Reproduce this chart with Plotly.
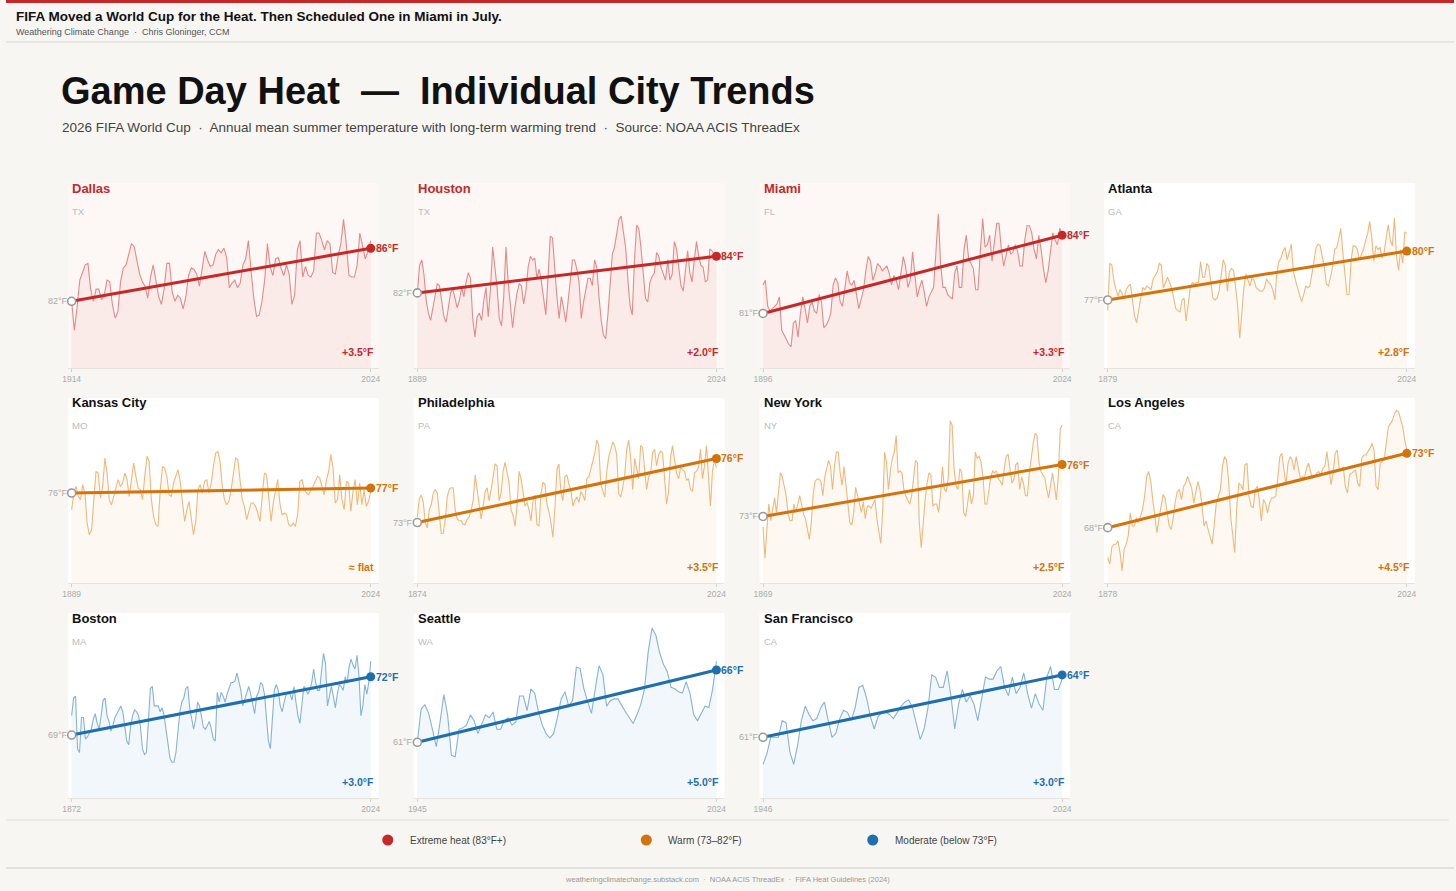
import plotly.graph_objects as go

# Staedte, Bundesstaaten, Hitzestufe und erstes Jahr der Messreihe.
cities = ["Dallas", "Houston", "Miami", "Atlanta", "Kansas City", "Philadelphia",
          "New York", "Los Angeles", "Boston", "Seattle", "San Francisco"]
states = ["TX", "TX", "FL", "GA", "MO", "PA", "NY", "CA", "MA", "WA", "CA"]
tiers = ["extreme", "extreme", "extreme", "warm", "warm", "warm", "warm", "warm",
         "moderate", "moderate", "moderate"]
start_years = [1914, 1889, 1896, 1879, 1889, 1874, 1869, 1878, 1872, 1945, 1946]
end_year = 2024

# Mittlere Sommertemperatur (°F), ein Wert pro Jahr.
dallas = [82.2, 80.3, 81.8, 83.6, 84.1, 84.6, 84.7, 83.0, 82.2, 83.0,
          83.0, 82.3, 82.6, 83.6, 83.5, 82.0, 81.1, 81.5, 83.5, 84.4,
          84.6, 85.3, 86.0, 85.8, 84.8, 84.0, 83.5, 83.2, 82.4, 83.8,
          84.6, 83.6, 82.5, 82.0, 83.0, 84.7, 84.7, 82.8, 82.2, 82.6,
          82.4, 81.7, 82.5, 83.9, 84.4, 84.3, 84.0, 83.2, 84.5, 85.5,
          84.9, 84.5, 84.6, 85.3, 85.6, 85.4, 85.7, 85.1, 83.1, 83.4,
          83.6, 83.1, 83.4, 84.6, 85.0, 86.2, 84.2, 82.4, 81.2, 81.3,
          82.2, 83.6, 86.0, 84.5, 83.9, 85.0, 85.1, 84.4, 83.9, 84.6,
          84.0, 82.0, 82.6, 85.6, 86.2, 83.8, 84.5, 83.9, 83.8, 84.2,
          86.7, 86.7, 86.2, 85.6, 86.2, 86.0, 84.1, 84.0, 85.2, 86.0,
          87.6, 86.0, 83.9, 83.8, 83.8, 84.6, 86.7, 85.8, 85.0, 85.5, 86.2]
houston = [82.2, 83.7, 84.0, 83.2, 81.8, 81.1, 80.7, 81.3, 82.0, 82.7,
           82.6, 81.7, 80.9, 80.6, 81.3, 82.2, 82.4, 81.9, 81.4, 81.8,
           82.5, 82.0, 82.8, 83.3, 83.0, 80.8, 79.8, 80.9, 81.1, 80.7,
           81.8, 82.5, 80.9, 82.4, 84.7, 83.6, 82.5, 80.8, 80.4, 82.0,
           84.7, 82.8, 81.5, 80.3, 81.4, 82.2, 82.7, 82.6, 81.6, 82.3,
           83.6, 84.2, 84.0, 84.1, 83.0, 83.5, 82.8, 81.9, 81.0, 83.1,
           85.3, 85.2, 83.5, 82.0, 80.8, 82.0, 81.4, 80.6, 81.7, 83.0,
           84.0, 84.0, 83.5, 82.8, 80.8, 81.7, 82.4, 83.0, 83.0, 82.6,
           84.0, 83.6, 82.0, 80.7, 79.9, 79.7, 81.0, 82.8, 84.3, 84.7,
           85.4, 86.2, 86.4, 85.6, 84.7, 83.0, 81.5, 81.0, 84.0, 85.9,
           85.7, 84.6, 83.4, 81.9, 81.7, 82.8, 83.1, 83.3, 84.4, 84.2,
           83.6, 83.2, 82.9, 84.0, 82.9, 83.2, 85.0, 84.6, 83.5, 82.6,
           82.3, 83.5, 84.5, 83.3, 82.8, 84.0, 85.0, 84.2, 83.7, 83.6,
           82.8, 82.9, 84.6, 84.5, 84.3, 84.2]
miami = [82.1, 82.3, 81.2, 81.0, 81.1, 81.2, 81.3, 81.6, 80.2, 80.0,
         79.8, 79.6, 79.5, 80.5, 80.6, 79.9, 80.9, 81.6, 81.1, 80.5,
         81.2, 81.4, 81.0, 80.9, 81.7, 81.4, 80.3, 80.4, 80.6, 80.9,
         82.1, 82.4, 82.2, 81.4, 81.2, 82.0, 82.7, 82.2, 82.1, 82.3,
         81.6, 81.1, 81.5, 81.9, 82.7, 83.3, 83.1, 82.3, 82.6, 83.0,
         82.9, 82.7, 82.8, 82.9, 82.6, 82.1, 82.5, 82.3, 81.9, 82.6,
         83.3, 82.9, 82.0, 82.3, 83.5, 82.5, 81.6, 82.0, 82.3, 81.8,
         81.2, 81.6, 81.8, 82.0, 83.5, 85.1, 83.0, 82.0, 82.0, 81.7,
         81.6, 81.5, 82.6, 82.9, 82.0, 82.0, 83.6, 84.2, 83.2, 83.0,
         82.8, 81.9, 81.9, 83.5, 84.9, 83.7, 83.8, 84.2, 83.1, 83.9,
         84.7, 84.7, 83.6, 82.9, 83.4, 83.8, 83.4, 83.5, 83.8, 83.5,
         82.9, 82.9, 84.0, 84.6, 84.6, 84.3, 83.6, 83.2, 84.2, 83.6,
         82.8, 82.2, 82.7, 83.5, 84.3, 84.0, 83.8, 84.5, 84.2]
atlanta = [76.7, 79.4, 79.3, 78.4, 77.9, 77.5, 77.9, 77.6, 77.4, 77.9,
           78.1, 78.2, 77.3, 76.4, 76.0, 76.8, 77.4, 78.0, 77.9, 78.1,
           78.0, 77.9, 78.5, 78.7, 78.9, 79.4, 79.3, 78.0, 78.3, 78.6,
           78.3, 78.0, 77.4, 76.8, 76.7, 76.6, 77.3, 77.4, 76.1, 77.2,
           78.0, 78.3, 78.2, 78.3, 78.3, 79.5, 78.6, 78.6, 79.4, 79.2,
           78.4, 77.4, 77.3, 77.4, 77.8, 78.9, 79.6, 79.3, 77.8, 78.9,
           79.1, 79.0, 78.1, 77.0, 75.1, 76.5, 78.0, 78.8, 78.5, 78.1,
           78.6, 78.4, 78.0, 77.9, 77.8, 77.8, 78.0, 78.5, 78.3, 78.2,
           77.9, 77.3, 78.9, 79.5, 79.7, 80.1, 80.3, 79.6, 80.0, 80.5,
           78.9, 78.4, 78.0, 77.6, 77.2, 77.6, 78.1, 78.0, 78.1, 78.8,
           79.5, 80.3, 80.5, 80.4, 79.8, 79.2, 78.2, 78.1, 78.6, 79.2,
           80.2, 80.3, 80.8, 81.4, 80.0, 78.9, 77.6, 77.6, 79.6, 80.4,
           80.4, 80.2, 79.6, 79.9, 80.2, 80.7, 81.1, 81.8, 80.9, 79.5,
           80.4, 80.2, 80.3, 79.7, 80.0, 80.9, 81.6, 80.7, 80.4, 82.0,
           79.8, 79.0, 80.2, 79.4, 81.2, 81.1]
kansas_city = [75.4, 76.4, 76.8, 76.2, 76.0, 76.9, 76.4, 74.6, 73.9, 74.2,
               76.0, 77.7, 77.6, 76.1, 76.8, 78.5, 77.6, 76.0, 75.7, 76.2,
               76.7, 77.2, 76.8, 77.0, 77.6, 77.2, 76.2, 77.2, 78.2, 77.4,
               76.7, 76.6, 76.0, 77.4, 78.6, 78.3, 76.0, 75.0, 74.5, 74.4,
               76.6, 78.0, 77.9, 77.4, 76.3, 76.2, 77.0, 77.4, 77.8, 77.1,
               76.0, 74.7, 75.4, 75.9, 74.9, 73.9, 74.7, 76.6, 76.9, 76.4,
               77.1, 77.2, 76.4, 77.0, 78.0, 78.8, 78.9, 78.3, 76.8, 76.0,
               75.7, 75.9, 76.6, 77.6, 78.5, 78.4, 77.0, 76.0, 75.6, 74.8,
               75.3, 75.8, 75.8, 75.6, 75.2, 74.7, 76.2, 77.6, 77.5, 76.0,
               74.7, 75.8, 76.4, 77.2, 75.8, 75.1, 75.2, 75.1, 74.5, 74.4,
               74.6, 74.4, 75.1, 77.1, 77.2, 76.6, 76.4, 76.3, 76.6, 76.8,
               77.1, 77.4, 77.3, 76.8, 76.3, 77.2, 77.7, 78.7, 77.9, 75.8,
               76.0, 77.5, 76.0, 75.4, 77.1, 77.0, 75.3, 76.5, 77.2, 75.7,
               77.0, 75.7, 76.6, 75.6, 75.9, 76.5]
philadelphia = [73.1, 74.1, 74.3, 73.9, 72.8, 72.5, 73.5, 73.8, 74.4, 74.6,
                74.4, 73.1, 72.2, 72.2, 73.0, 74.2, 74.6, 74.7, 74.7, 73.5,
                73.0, 72.9, 72.9, 72.7, 72.7, 73.0, 73.1, 73.5, 74.0, 75.4,
                74.6, 73.8, 73.0, 73.7, 74.5, 74.7, 74.0, 74.6, 75.2, 76.0,
                75.9, 74.0, 74.4, 75.6, 76.1, 75.6, 75.0, 73.5, 73.2, 72.6,
                73.7, 75.6, 75.2, 74.5, 73.7, 73.9, 73.5, 72.9, 74.0, 74.3,
                72.7, 72.6, 74.4, 75.0, 74.9, 73.8, 73.4, 72.8, 72.0, 73.6,
                75.7, 76.0, 74.5, 74.0, 75.3, 75.4, 74.9, 74.6, 73.7, 74.0,
                74.2, 73.9, 74.5, 74.3, 74.0, 75.2, 75.3, 75.7, 76.1, 76.6,
                77.3, 77.0, 74.9, 74.5, 74.2, 75.6, 76.4, 76.8, 77.2, 77.0,
                76.5, 74.4, 74.2, 74.7, 75.4, 76.8, 77.3, 76.3, 74.6, 76.3,
                75.8, 75.2, 77.0, 76.9, 75.7, 74.6, 75.3, 75.5, 76.6, 76.8,
                75.9, 76.5, 76.7, 76.6, 75.2, 73.8, 74.5, 76.4, 77.0, 76.2,
                75.5, 75.2, 75.8, 75.7, 75.6, 75.1, 75.2, 74.6, 74.5, 75.5,
                75.6, 75.8, 76.8, 75.2, 75.9, 77.0, 75.4, 73.7, 75.6, 76.2,
                75.8]
new_york = [72.8, 71.3, 72.7, 73.9, 73.1, 73.6, 74.2, 73.5, 74.4, 75.4,
            75.2, 74.8, 74.3, 73.4, 73.1, 73.1, 73.9, 73.5, 73.9, 74.3,
            73.9, 73.4, 73.2, 72.7, 72.2, 73.0, 74.4, 75.0, 75.1, 75.1,
            75.0, 74.3, 75.2, 75.6, 76.0, 75.7, 74.6, 75.7, 76.4, 76.4,
            75.4, 74.8, 75.7, 74.8, 73.9, 73.0, 72.9, 73.5, 74.7, 74.3,
            73.9, 73.5, 74.0, 73.2, 73.8, 73.8, 73.7, 73.9, 74.1, 73.2,
            72.5, 72.0, 73.6, 76.4, 75.9, 74.6, 75.5, 76.1, 76.4, 77.2,
            75.4, 75.5, 75.4, 74.6, 74.3, 74.1, 73.9, 74.3, 75.1, 76.0,
            75.9, 73.0, 71.8, 73.0, 74.1, 74.9, 75.4, 75.3, 73.8, 73.9,
            73.9, 73.5, 74.4, 75.7, 74.6, 74.5, 75.2, 77.9, 77.7, 75.6,
            74.8, 74.6, 75.6, 75.4, 73.5, 73.3, 74.1, 74.6, 73.9, 74.3,
            76.4, 76.1, 76.2, 75.9, 75.2, 73.9, 73.9, 74.6, 75.2, 75.5,
            75.4, 75.5, 75.1, 75.0, 74.8, 75.6, 76.2, 76.3, 75.7, 74.9,
            75.1, 75.8, 75.9, 74.6, 75.2, 74.9, 74.3, 74.3, 75.4, 76.2,
            76.8, 77.3, 77.2, 75.9, 75.5, 75.3, 75.2, 74.6, 74.2, 74.8,
            75.4, 74.8, 74.1, 75.2, 77.5, 77.7]
los_angeles = [66.5, 66.1, 67.1, 67.3, 67.3, 67.5, 66.8, 65.7, 67.0, 67.3,
               67.8, 69.2, 68.4, 68.4, 68.9, 68.6, 69.0, 69.4, 70.2, 71.4,
               71.7, 71.1, 70.0, 68.9, 68.0, 68.8, 69.6, 70.3, 70.1, 69.2,
               68.4, 68.2, 68.9, 69.9, 70.5, 70.6, 70.0, 70.8, 71.0, 71.4,
               71.0, 70.7, 69.8, 70.5, 71.1, 70.6, 69.7, 68.4, 68.7, 68.2,
               67.7, 67.3, 68.5, 69.8, 70.2, 70.6, 72.0, 72.6, 72.4, 71.2,
               69.0, 67.8, 66.8, 69.6, 71.0, 70.9, 70.6, 72.1, 72.2, 70.2,
               69.6, 69.5, 70.6, 70.8, 70.0, 68.7, 70.0, 69.8, 69.2, 69.8,
               70.1, 70.1, 70.2, 71.3, 72.6, 72.8, 71.8, 70.9, 72.2, 72.6,
               72.4, 71.8, 72.6, 71.9, 71.3, 71.4, 71.3, 71.9, 72.2, 71.7,
               71.3, 71.4, 71.6, 71.7, 71.5, 71.9, 72.0, 72.9, 71.8, 70.9,
               71.6, 72.8, 73.0, 71.9, 71.8, 72.0, 70.8, 70.4, 71.5, 71.6,
               71.7, 71.8, 71.0, 70.8, 72.5, 72.7, 72.7, 72.9, 73.1, 73.4,
               73.0, 70.8, 70.6, 72.2, 72.3, 72.5, 73.4, 74.4, 74.6, 74.8,
               75.2, 75.4, 75.3, 74.8, 74.4, 73.6, 73.0]
boston = [70.2, 71.1, 71.2, 68.5, 68.3, 70.1, 70.1, 69.0, 69.1, 69.3,
          69.5, 70.0, 70.3, 69.8, 69.5, 70.2, 71.0, 71.1, 70.2, 69.9,
          69.4, 69.7, 70.1, 70.3, 70.5, 70.7, 70.4, 69.6, 68.9, 68.7,
          69.7, 70.2, 70.5, 70.4, 70.2, 69.6, 68.5, 68.2, 68.3, 69.9,
          71.6, 71.7, 70.7, 70.7, 70.7, 70.4, 70.6, 70.2, 69.5, 68.9,
          68.0, 67.8, 67.8, 68.3, 69.4, 70.4, 70.9, 71.1, 71.6, 71.7,
          70.6, 70.1, 69.5, 70.0, 70.9, 70.7, 70.1, 69.6, 69.5, 69.7,
          69.9, 69.5, 69.0, 68.9, 71.4, 70.9, 71.4, 71.2, 70.9, 71.3,
          71.6, 71.9, 71.9, 72.0, 72.4, 72.0, 71.5, 70.7, 71.0, 71.3,
          71.7, 71.3, 70.7, 70.3, 71.2, 71.4, 71.9, 71.8, 71.3, 69.9,
          68.9, 68.5, 70.1, 71.5, 71.8, 71.5, 70.7, 70.4, 70.9, 71.3,
          71.4, 71.3, 71.0, 71.7, 70.9, 70.2, 69.8, 70.7, 71.7, 71.6,
          71.3, 71.5, 71.9, 72.6, 71.9, 71.5, 71.5, 72.5, 73.4, 72.9,
          70.7, 71.2, 71.7, 71.2, 70.6, 71.3, 71.8, 71.7, 71.5, 72.2,
          71.9, 72.7, 73.1, 72.8, 72.6, 73.3, 72.3, 70.2, 70.7, 71.8,
          71.3, 71.9, 73.0]
seattle = [61.2, 63.5, 63.8, 63.2, 62.1, 60.9, 62.6, 64.5, 63.1, 60.3,
           60.2, 62.1, 62.2, 62.4, 63.1, 62.7, 61.8, 62.5, 63.1, 62.9,
           63.3, 62.1, 62.1, 62.7, 62.9, 62.4, 62.6, 64.4, 64.4, 63.4,
           64.9, 64.6, 63.3, 62.4, 61.8, 61.5, 61.8, 62.9, 64.2, 64.7,
           63.7, 64.1, 66.4, 66.3, 64.9, 64.0, 63.2, 64.9, 66.5, 65.9,
           63.7, 64.1, 64.2, 64.2, 63.7, 63.3, 62.9, 62.5, 63.1, 63.8,
           64.9, 67.5, 69.1, 68.6, 67.4, 66.6, 66.1, 65.0, 64.9, 64.7,
           64.6, 65.4, 64.6, 63.1, 62.7, 63.2, 63.7, 63.6, 64.9, 66.8]
san_francisco = [59.8, 60.3, 61.1, 61.1, 61.1, 61.9, 61.8, 60.4, 59.8, 60.7,
                 61.9, 62.6, 62.2, 61.9, 62.0, 62.5, 62.8, 61.9, 61.1, 61.3,
                 62.0, 62.4, 62.3, 61.9, 62.5, 63.5, 63.6, 63.0, 62.1, 61.5,
                 62.1, 62.3, 62.3, 62.2, 62.0, 62.3, 62.6, 62.8, 62.9, 62.5,
                 61.7, 61.0, 61.5, 62.5, 64.1, 64.0, 63.5, 63.5, 64.3, 63.1,
                 61.5, 62.7, 63.4, 62.8, 63.1, 62.7, 61.9, 63.0, 64.0, 63.9,
                 63.9, 64.3, 64.5, 63.5, 63.1, 64.0, 63.2, 63.5, 64.2, 63.2,
                 62.5, 63.2, 62.7, 62.4, 64.0, 64.5, 63.4, 63.4, 63.9]
series = [dallas, houston, miami, atlanta, kansas_city, philadelphia,
          new_york, los_angeles, boston, seattle, san_francisco]

# Langfristiger Trend: Anfangs- und Endwert (°F).
trend_start = [82.2, 82.2, 80.9, 77.3, 76.4, 72.8, 73.3, 68.3, 69.2, 61.2, 61.1]
trend_end = [85.7, 84.2, 84.2, 80.1, 76.7, 76.3, 75.8, 72.8, 72.2, 66.2, 64.1]
change_labels = ["+3.5°F", "+2.0°F", "+3.3°F", "+2.8°F", "≈ flat", "+3.5°F",
                 "+2.5°F", "+4.5°F", "+3.0°F", "+5.0°F", "+3.0°F"]

legend_labels = ["Extreme heat (83°F+)", "Warm (73–82°F)", "Moderate (below 73°F)"]

# Farben je Hitzestufe.
styles = {
    "extreme": dict(main="#c62828", line="rgba(205,55,55,0.55)",
                    fill="rgba(215,70,70,0.07)", bg="#fdf8f6", title="#c62828"),
    "warm": dict(main="#d4730b", line="rgba(228,140,40,0.6)",
                 fill="rgba(228,140,40,0.06)", bg="#ffffff", title="#111111"),
    "moderate": dict(main="#1f6fae", line="rgba(40,120,180,0.55)",
                     fill="rgba(40,120,180,0.06)", bg="#ffffff", title="#111111"),
}

# Y-Bereich je Panel.
y_ranges = [(77.8, 90.0), (78.1, 88.2), (78.6, 86.4), (73.4, 84.0), (71.0, 82.1),
            (69.5, 79.6), (70.1, 79.0), (64.95, 76.15), (65.96, 75.48),
            (57.35, 70.14), (58.18, 67.08)]

W, H = 1456, 891
FONT = "Liberation Sans, Arial, sans-serif"
col_left = [70, 415, 760, 1104]
row_top = [183, 398, 613]
panel_w, panel_h = 310, 185


def px(x):
    # horizontale Pixelposition -> Papierkoordinate (leicht nachjustiert)
    return (x - 8) / 0.9925 / W


def py(y):
    return 1 - y / H


fig = go.Figure()
annotations = []
shapes = []
layout_axes = {}

for i, city in enumerate(cities):
    n = i + 1
    xid = "x" if n == 1 else f"x{n}"
    yid = "y" if n == 1 else f"y{n}"
    st = styles[tiers[i]]
    start = start_years[i]
    temps = series[i]
    years = list(range(end_year - len(temps) + 1, end_year + 1))

    left = col_left[i % 4]
    top = row_top[i // 4]
    ppy = (panel_w - 11.5) / (end_year - start)
    layout_axes["xaxis" if n == 1 else f"xaxis{n}"] = dict(
        domain=[px(left), px(left + panel_w)],
        range=[start - 3.5 / ppy, end_year + 8 / ppy],
        anchor=yid, tickvals=[start, end_year], ticks="outside", ticklen=3,
        tickcolor="#d6d3cd", tickfont=dict(size=8.5, color="#aaaaaa", family=FONT),
        showline=True, linecolor="#e6e3de", linewidth=1,
        showgrid=False, zeroline=False, fixedrange=True)
    layout_axes["yaxis" if n == 1 else f"yaxis{n}"] = dict(
        domain=[py(top + panel_h), py(top)],
        range=list(y_ranges[i]), anchor=xid, visible=False, fixedrange=True)

    # Panel-Hintergrund
    shapes.append(dict(type="rect", xref=f"{xid} domain", yref=f"{yid} domain",
                       x0=0, x1=1, y0=0, y1=1, fillcolor=st["bg"],
                       line=dict(width=0), layer="below"))

    fig.add_trace(go.Scatter(x=years, y=temps, xaxis=xid, yaxis=yid, mode="lines",
                             line=dict(color=st["line"], width=1.1),
                             fill="tozeroy", fillcolor=st["fill"], hoverinfo="skip"))
    fig.add_trace(go.Scatter(x=[start, end_year], y=[trend_start[i], trend_end[i]],
                             xaxis=xid, yaxis=yid, mode="lines",
                             line=dict(color=st["main"], width=3), hoverinfo="skip"))
    fig.add_trace(go.Scatter(x=[start], y=[trend_start[i]], xaxis=xid, yaxis=yid,
                             mode="markers", cliponaxis=False,
                             marker=dict(size=8, color="white",
                                         line=dict(color="#9a9a9a", width=1.6))))
    fig.add_trace(go.Scatter(x=[end_year], y=[trend_end[i]], xaxis=xid, yaxis=yid,
                             mode="markers", cliponaxis=False,
                             marker=dict(size=9, color=st["main"])))

    annotations += [
        dict(text=f"<b>{city}</b>", xref=f"{xid} domain", yref=f"{yid} domain",
             x=0, y=1, xanchor="left", yanchor="middle", xshift=2, yshift=-5,
             showarrow=False, font=dict(size=13, color=st["title"], family=FONT)),
        dict(text=states[i], xref=f"{xid} domain", yref=f"{yid} domain",
             x=0, y=1, xanchor="left", yanchor="middle", xshift=2, yshift=-28,
             showarrow=False, font=dict(size=9.5, color="#bbbbbb", family=FONT)),
        dict(text=f"{trend_start[i]:.0f}°F", xref=xid, yref=yid, x=start,
             y=trend_start[i], xanchor="right", yanchor="middle", xshift=-2,
             showarrow=False, font=dict(size=9, color="#aaaaaa", family=FONT)),
        dict(text=f"<b>{trend_end[i]:.0f}°F</b>", xref=xid, yref=yid, x=end_year,
             y=trend_end[i], xanchor="left", yanchor="middle", xshift=3,
             showarrow=False, font=dict(size=10.5, color=st["main"], family=FONT)),
        dict(text=f"<b>{change_labels[i]}</b>", xref=f"{xid} domain",
             yref=f"{yid} domain", x=1, y=0, xanchor="right", yanchor="middle",
             xshift=-3, yshift=16, showarrow=False,
             font=dict(size=10.5, color=st["main"], family=FONT)),
    ]

# Kopfzeile, Titel, Legende und Fusszeile.
shapes += [
    dict(type="rect", xref="paper", yref="paper", x0=0, x1=1, y0=py(3), y1=1,
         fillcolor="#c62828", line=dict(width=0)),
    dict(type="line", xref="paper", yref="paper", x0=0, x1=1, y0=py(42), y1=py(42),
         line=dict(color="#d9d6d0", width=1)),
    dict(type="line", xref="paper", yref="paper", x0=px(8), x1=px(1448),
         y0=py(820), y1=py(820), line=dict(color="#e3e0db", width=1)),
    dict(type="line", xref="paper", yref="paper", x0=0, x1=1, y0=py(868), y1=py(868),
         line=dict(color="#cfccc6", width=1)),
]
annotations += [
    dict(text="<b>FIFA Moved a World Cup for the Heat. Then Scheduled One in Miami in July.</b>",
         xref="paper", yref="paper", x=px(16), y=py(16), xanchor="left",
         yanchor="middle", showarrow=False,
         font=dict(size=13.5, color="#111111", family=FONT)),
    dict(text="Weathering Climate Change  ·  Chris Gloninger, CCM",
         xref="paper", yref="paper", x=px(16), y=py(32), xanchor="left",
         yanchor="middle", showarrow=False,
         font=dict(size=9, color="#555555", family=FONT)),
    dict(text="<b>Game Day Heat \u00a0—\u00a0 Individual City Trends</b>",
         xref="paper", yref="paper", x=px(61), y=py(91), xanchor="left",
         yanchor="middle", showarrow=False,
         font=dict(size=38, color="#111111", family=FONT)),
    dict(text="2026 FIFA World Cup \u00a0·\u00a0 Annual mean summer temperature with "
              "long-term warming trend \u00a0·\u00a0 Source: NOAA ACIS ThreadEx",
         xref="paper", yref="paper", x=px(62), y=py(127), xanchor="left",
         yanchor="middle", showarrow=False,
         font=dict(size=13.5, color="#444444", family=FONT)),
    dict(text="weatheringclimatechange.substack.com  ·  NOAA ACIS ThreadEx  ·  "
              "FIFA Heat Guidelines (2024)",
         xref="paper", yref="paper", x=px(728), y=py(879), xanchor="center",
         yanchor="middle", showarrow=False,
         font=dict(size=7.5, color="#999999", family=FONT)),
]

legend_x = [389, 647, 873]
for j, tier in enumerate(["extreme", "warm", "moderate"]):
    cx = legend_x[j]
    shapes.append(dict(type="circle", xref="paper", yref="paper",
                       x0=px(cx - 5.5), x1=px(cx + 5.5),
                       y0=py(840 + 5.5), y1=py(840 - 5.5),
                       fillcolor=styles[tier]["main"], line=dict(width=0)))
    annotations.append(dict(text=legend_labels[j], xref="paper", yref="paper",
                            x=px(cx + 20), y=py(840), xanchor="left",
                            yanchor="middle", showarrow=False,
                            font=dict(size=10, color="#444444", family=FONT)))

fig.update_layout(
    height=H, margin=dict(l=0, r=0, t=0, b=0),
    paper_bgcolor="#f7f6f2", plot_bgcolor="rgba(0,0,0,0)",
    showlegend=False, annotations=annotations, shapes=shapes,
    font=dict(family=FONT), **layout_axes)

# Seitenrand des Browsers entfernen, damit die Grafik genau ins Fenster passt.
fig.write_html("out.html", config={"displayModeBar": False},
               post_script="document.body.style.margin='0';"
               "document.body.style.overflow='hidden';"
               "window.dispatchEvent(new Event('resize'));")
